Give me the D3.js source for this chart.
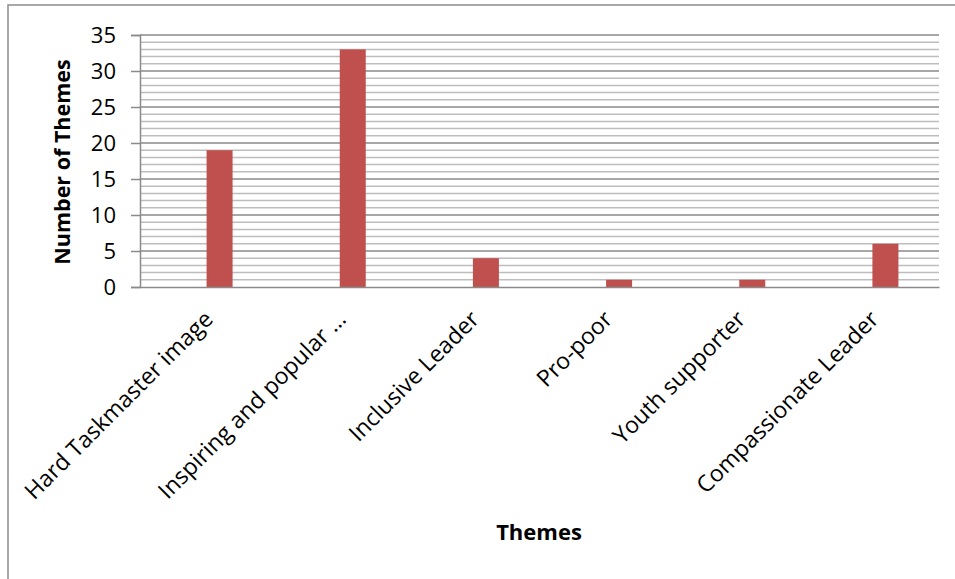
<!DOCTYPE html>
<html>
<head>
<meta charset="utf-8">
<script src="https://cdn.jsdelivr.net/npm/d3@7"></script>
<style>
  html, body { margin: 0; padding: 0; background: #fff; }
  svg { display: block; }
  text { font-family: "Open Sans", "Noto Sans", sans-serif; fill: #000; }
</style>
</head>
<body>
<svg id="chart" width="955" height="579"></svg>
<script>
// Theme categories and counts
const categories = [
  "Hard Taskmaster image",
  "Inspiring and popular \u2026",
  "Inclusive Leader",
  "Pro-poor",
  "Youth supporter",
  "Compassionate Leader"
];
const counts = [19, 33, 4, 1, 1, 6];
const majorTicks = [0, 5, 10, 15, 20, 25, 30, 35];
const minorTicks = d3.range(0, 36, 1);

const svg = d3.select("#chart");
const plot = { left: 140, right: 939, top: 35, bottom: 287 };

// Outer chart frame
svg.append("rect")
  .attr("x", 8).attr("y", 5)
  .attr("width", 1000).attr("height", 700)
  .attr("fill", "none")
  .attr("stroke", "#8c8c8c")
  .attr("stroke-width", 1.5);

const x = d3.scaleBand().domain(categories).range([plot.left, plot.right]).padding(0);
const y = d3.scaleLinear().domain([0, 35]).range([plot.bottom, plot.top]);

// Minor gridlines (every unit)
svg.append("g").selectAll("line")
  .data(minorTicks.filter(v => v % 5 !== 0))
  .join("line")
  .attr("x1", plot.left).attr("x2", plot.right)
  .attr("y1", d => y(d)).attr("y2", d => y(d))
  .attr("stroke", "#bdbdbd")
  .attr("stroke-width", 1.5);

// Major gridlines
svg.append("g").selectAll("line")
  .data(majorTicks.filter(v => v !== 0))
  .join("line")
  .attr("x1", plot.left).attr("x2", plot.right)
  .attr("y1", d => y(d)).attr("y2", d => y(d))
  .attr("stroke", "#8a8a8a")
  .attr("stroke-width", 1.5);

// Bars: each sits in the right half-slot of its category
const barW = 26;
svg.append("g").selectAll("rect")
  .data(categories.map((c, i) => ({ c, v: counts[i] })))
  .join("rect")
  .attr("x", d => x(d.c) + x.bandwidth() / 2)
  .attr("y", d => y(d.v))
  .attr("width", barW)
  .attr("height", d => y(0) - y(d.v))
  .attr("fill", "#C0504D");

// Y axis
const yAxis = d3.axisLeft(y).tickValues(majorTicks).tickSize(9).tickPadding(15);
const gy = svg.append("g").attr("transform", `translate(${plot.left},0)`).call(yAxis);
gy.select(".domain").attr("stroke", "#8a8a8a").attr("stroke-width", 1.5);
gy.selectAll(".tick line").attr("stroke", "#8a8a8a").attr("stroke-width", 1.5);
gy.selectAll(".tick text")
  .style("font-family", "'Open Sans', sans-serif")
  .style("font-size", "22px")
  .attr("fill", "#000");

// X axis with rotated category labels
const xAxis = d3.axisBottom(x).tickSize(0).tickFormat("");
const gx = svg.append("g").attr("transform", `translate(0,${plot.bottom})`).call(xAxis);
gx.select(".domain").attr("stroke", "#8a8a8a").attr("stroke-width", 1.5);
gx.selectAll(".tick").append("text")
  .attr("transform", "translate(2,28) rotate(-45)")
  .attr("text-anchor", "end")
  .attr("dy", "0.35em")
  .style("font-size", "23px")
  .attr("fill", "#000")
  .text(d => d);

// Axis titles
svg.append("text")
  .attr("transform", "translate(70,162) rotate(-90)")
  .attr("text-anchor", "middle")
  .style("font-size", "21.5px")
  .style("font-weight", "bold")
  .text("Number of Themes");

svg.append("text")
  .attr("x", 539).attr("y", 540)
  .attr("text-anchor", "middle")
  .style("font-size", "22px")
  .style("font-weight", "bold")
  .text("Themes");
</script>
</body>
</html>
